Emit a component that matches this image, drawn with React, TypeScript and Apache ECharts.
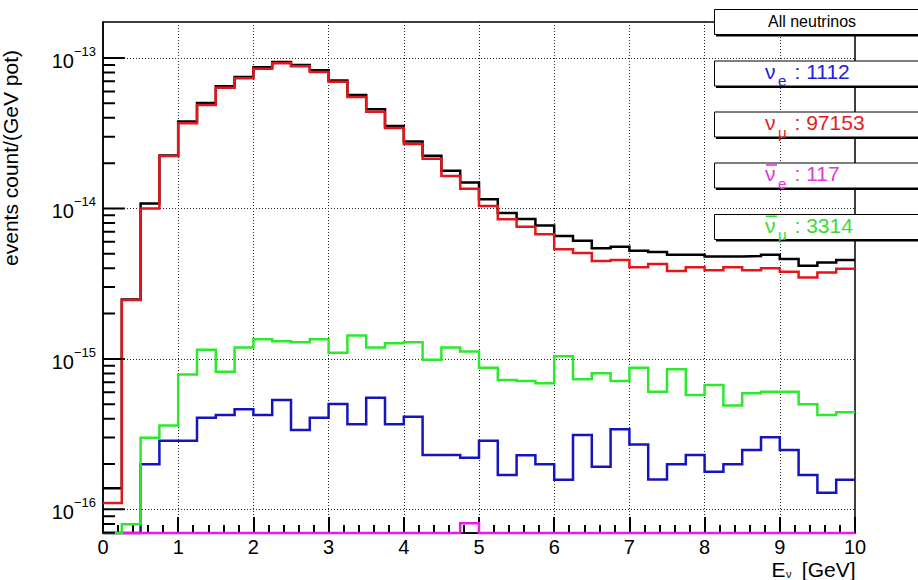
import React, { useEffect, useRef } from "react";
import * as echarts from "echarts";

// Energy binning of the histograms (GeV)
const binWidth = 0.25;
const energyMin = 0;
const energyMax = 10;

// Flux per 0.25 GeV bin, events count / (GeV pot)
const allNeutrinos = [
  1.38e-16, 2.48e-15, 1.08e-14, 2.25e-14, 3.79e-14, 5.02e-14, 6.5e-14, 7.47e-14,
  8.67e-14, 9.4e-14, 9.0e-14, 8.28e-14, 7.1e-14, 5.68e-14, 4.56e-14, 3.53e-14,
  2.79e-14, 2.24e-14, 1.78e-14, 1.49e-14, 1.15e-14, 9.32e-15, 8.5e-15, 7.7e-15,
  6.57e-15, 6.1e-15, 5.43e-15, 5.57e-15, 5.24e-15, 5.13e-15, 4.92e-15, 4.92e-15,
  4.8e-15, 4.8e-15, 4.82e-15, 4.92e-15, 4.61e-15, 4.16e-15, 4.38e-15, 4.54e-15,
];
const numu = [
  1.1e-16, 2.46e-15, 1.0e-14, 2.23e-14, 3.68e-14, 4.87e-14, 6.35e-14, 7.33e-14,
  8.49e-14, 9.22e-14, 8.8e-14, 8.07e-14, 6.95e-14, 5.51e-14, 4.4e-14, 3.43e-14,
  2.68e-14, 2.14e-14, 1.64e-14, 1.35e-14, 1.04e-14, 8.47e-15, 7.57e-15, 6.73e-15,
  5.35e-15, 5.05e-15, 4.48e-15, 4.54e-15, 4.06e-15, 4.28e-15, 3.84e-15, 4.06e-15,
  3.88e-15, 4.07e-15, 3.88e-15, 4.0e-15, 3.79e-15, 3.47e-15, 3.75e-15, 3.98e-15,
];
const numubar = [
  0, 7.97e-17, 2.99e-16, 3.61e-16, 7.88e-16, 1.15e-15, 8.22e-16, 1.19e-15,
  1.35e-15, 1.31e-15, 1.29e-15, 1.35e-15, 1.1e-15, 1.43e-15, 1.19e-15, 1.27e-15,
  1.29e-15, 9.87e-16, 1.19e-15, 1.12e-15, 8.73e-16, 7.23e-16, 7.12e-16, 6.88e-16,
  1.04e-15, 7.31e-16, 8.02e-16, 7.12e-16, 8.73e-16, 6.05e-16, 8.53e-16, 5.75e-16,
  6.7e-16, 4.89e-16, 5.9e-16, 6.05e-16, 6.05e-16, 4.99e-16, 4.24e-16, 4.41e-16,
];
const nue = [
  0, 0, 1.99e-16, 2.86e-16, 2.86e-16, 4.06e-16, 4.24e-16, 4.62e-16,
  4.24e-16, 5.33e-16, 3.37e-16, 4.06e-16, 5.01e-16, 3.67e-16, 5.52e-16, 3.67e-16,
  4.13e-16, 2.3e-16, 2.3e-16, 2.2e-16, 2.86e-16, 1.69e-16, 2.29e-16, 1.99e-16,
  1.57e-16, 3.12e-16, 1.92e-16, 3.41e-16, 2.7e-16, 1.58e-16, 1.99e-16, 2.3e-16,
  1.78e-16, 1.99e-16, 2.48e-16, 3.01e-16, 2.48e-16, 1.69e-16, 1.29e-16, 1.57e-16,
];
const nuebar = [
  0, 0, 0, 0, 0, 0, 0, 0, 0, 0, 0, 0, 0, 0, 0, 0, 0, 0, 0, 8.07e-17,
  0, 0, 0, 0, 0, 0, 0, 0, 0, 0, 0, 0, 0, 0, 0, 0, 0, 0, 0, 0,
];

// Event counts shown in the boxes
const legendCounts = { nue: "1112", numu: "97153", nuebar: "117", numubar: "3314" };

// Axis ranges and decade labels
const yMin = 6.96e-17;
const yMax = 1.735e-13;
const yDecadeExponents = [-16, -15, -14, -13];
const xTickLabels = ["0", "1", "2", "3", "4", "5", "6", "7", "8", "9", "10"];

const FONT = "'Liberation Sans', Arial, Helvetica, sans-serif";

const COLORS = {
  all: "#000000",
  numu: "#e5161b",
  numubar: "#2de82d",
  nue: "#1414c0",
  nuebar: "#ec18ec",
};

const AXIS_COLOR = "#000";
const TICK_WIDTH = 2;
// Inward y tick lengths, in GeV along the x axis (about 22 px and 12 px)
const majorTickLen = 0.29;
const minorTickLen = 0.16;

// Histogram outline: each bin becomes a flat segment across its width.
// Empty bins sit on the frame bottom, as a log-scale histogram does.
function stepPoints(values: number[]): [number, number][] {
  const pts: [number, number][] = [];
  values.forEach((v, i) => {
    const y = v > yMin ? v : yMin;
    const x0 = energyMin + i * binWidth;
    pts.push([x0, y], [x0 + binWidth, y]);
  });
  return pts;
}

// Minor tick values (2..9 x 10^n) inside the y range
function minorLogTicks(): number[] {
  const lo = Math.log10(yMin);
  const hi = Math.log10(yMax);
  const out: number[] = [];
  for (let n = Math.floor(lo); n <= Math.ceil(hi); n++) {
    for (let k = 2; k <= 9; k++) {
      const p = n + Math.log10(k);
      if (p >= lo && p <= hi) out.push(k * Math.pow(10, n));
    }
  }
  return out;
}

// Tick segments along the left frame, separated by gaps
function yTickSegments(): any[] {
  const pts: any[] = [];
  yDecadeExponents.forEach((e) => {
    const v = Math.pow(10, e);
    pts.push([energyMin, v], [energyMin + majorTickLen, v], [energyMin, "-"]);
  });
  minorLogTicks().forEach((v) => {
    pts.push([energyMin, v], [energyMin + minorTickLen, v], [energyMin, "-"]);
  });
  return pts;
}

function buildGraphics(): any[] {
  // Legend-like boxes on the right
  const boxLeft = 714.5;
  const boxW = 240;
  const boxH = 25;
  const boxTops = [9.5, 61, 112, 163, 214.5];
  const graphics: any[] = [];
  boxTops.forEach((top) => {
    graphics.push({
      type: "rect",
      z: 100,
      shape: { x: boxLeft + 1.5, y: top + boxH - 0.5, width: boxW, height: 2.5 },
      style: { fill: "#000" },
    });
    graphics.push({
      type: "rect",
      z: 101,
      shape: { x: boxLeft, y: top, width: boxW, height: boxH },
      style: { fill: "#fff", stroke: "#000", lineWidth: 1 },
    });
  });

  graphics.push({
    type: "text",
    z: 102,
    x: 812,
    y: 21.5,
    style: {
      text: "All neutrinos",
      fontSize: 16,
      fontFamily: FONT,
      fill: "#000",
      align: "center",
      verticalAlign: "middle",
    },
  });

  const entries = [
    { sub: "e", count: legendCounts.nue, color: "#2020d8", base: 78.3, bar: false },
    { sub: "\u03bc", count: legendCounts.numu, color: "#e42020", base: 130, bar: false },
    { sub: "e", count: legendCounts.nuebar, color: "#e236e2", base: 181, bar: true },
    { sub: "\u03bc", count: legendCounts.numubar, color: "#36dc36", base: 232.3, bar: true },
  ];
  entries.forEach((e) => {
    const mid = e.base - 0.3465 * 21;
    graphics.push({
      type: "text",
      z: 102,
      x: 765,
      y: mid,
      style: { text: "\u03bd", fontSize: 21, fontFamily: FONT, fill: e.color, align: "left", verticalAlign: "middle" },
    });
    graphics.push({
      type: "text",
      z: 102,
      x: 778,
      y: e.base + 7.7 - 0.3465 * 15,
      style: { text: e.sub, fontSize: 15, fontFamily: FONT, fill: e.color, align: "left", verticalAlign: "middle" },
    });
    graphics.push({
      type: "text",
      z: 102,
      x: 794.5,
      y: mid,
      style: { text: ": " + e.count, fontSize: 21, fontFamily: FONT, fill: e.color, align: "left", verticalAlign: "middle" },
    });
    if (e.bar) {
      graphics.push({
        type: "line",
        z: 102,
        shape: { x1: 766, y1: e.base - 16, x2: 777, y2: e.base - 16 },
        style: { stroke: e.color, lineWidth: 1.6 },
      });
    }
  });

  // Axis titles
  graphics.push({
    type: "text",
    z: 102,
    x: 10.5,
    y: 158,
    rotation: Math.PI / 2,
    style: {
      text: "events count/(GeV pot)",
      fontSize: 21,
      fontFamily: FONT,
      fill: "#000",
      align: "center",
      verticalAlign: "middle",
    },
  });
  graphics.push({
    type: "text",
    z: 102,
    x: 771.5,
    y: 576.7 - 0.3465 * 21,
    style: { text: "E", fontSize: 21, fontFamily: FONT, fill: "#000", align: "left", verticalAlign: "middle" },
  });
  graphics.push({
    type: "text",
    z: 102,
    x: 786,
    y: 573.5,
    style: { text: "\u03bd", fontSize: 11, fontFamily: FONT, fill: "#000", align: "left", verticalAlign: "middle" },
  });
  graphics.push({
    type: "text",
    z: 102,
    x: 855.5,
    y: 576.7 - 0.3465 * 21,
    style: { text: "[GeV]", fontSize: 21, fontFamily: FONT, fill: "#000", align: "right", verticalAlign: "middle" },
  });
  return graphics;
}

function buildOption(): echarts.EChartsOption {
  const dotted = { type: [1, 2] as number[], color: "#222", width: 1 };
  const tickLine = { color: AXIS_COLOR, width: TICK_WIDTH };

  const hists = [
    { name: "All neutrinos", values: allNeutrinos, color: COLORS.all },
    { name: "numu", values: numu, color: COLORS.numu },
    { name: "nue", values: nue, color: COLORS.nue },
    { name: "nuebar", values: nuebar, color: COLORS.nuebar },
    { name: "numubar", values: numubar, color: COLORS.numubar },
  ];

  const series: any[] = hists.map((h, i) => ({
    type: "line" as const,
    name: h.name,
    data: stepPoints(h.values),
    showSymbol: false,
    symbol: "none",
    clip: false,
    silent: true,
    z: 3 + i,
    lineStyle: { color: h.color, width: 2.5, cap: "butt" as const, join: "miter" as const },
  }));

  // Inward ticks on the log y axis (decades and 2..9 x 10^n)
  series.push({
    type: "line",
    name: "y ticks",
    data: yTickSegments(),
    showSymbol: false,
    symbol: "none",
    connectNulls: false,
    clip: false,
    silent: true,
    z: 9,
    lineStyle: { color: AXIS_COLOR, width: TICK_WIDTH, cap: "butt" },
  });

  return {
    animation: false,
    grid: {
      left: 103,
      top: 22,
      width: 752,
      height: 511,
      show: true,
      borderColor: AXIS_COLOR,
      borderWidth: 1.5,
    },
    xAxis: {
      type: "value",
      min: energyMin,
      max: energyMax,
      interval: 1,
      axisLine: { show: true, onZero: false, lineStyle: { color: AXIS_COLOR, width: 1.5 } },
      axisTick: { show: true, inside: true, length: 16, lineStyle: tickLine },
      minorTick: { show: true, splitNumber: 5, length: 8, lineStyle: tickLine },
      axisLabel: {
        margin: 4,
        fontSize: 20,
        fontFamily: FONT,
        color: "#000",
        formatter: (v: number) => xTickLabels[Math.round(v)] ?? "",
      },
      splitLine: { show: true, showMinLine: false, showMaxLine: false, lineStyle: dotted },
    },
    yAxis: {
      type: "log",
      min: yMin,
      max: yMax,
      axisLine: { show: true, onZero: false, lineStyle: { color: AXIS_COLOR, width: 1.5 } },
      axisTick: { show: false },
      axisLabel: {
        show: true,
        margin: 7,
        formatter: (v: number) => {
          const e = Math.log10(v);
          const r = Math.round(e);
          if (Math.abs(e - r) > 1e-6 || yDecadeExponents.indexOf(r) < 0) return "";
          return `{b|10}{e|${r < 0 ? "\u2212" : ""}${Math.abs(r)}}`;
        },
        rich: {
          b: { fontSize: 20, fontFamily: FONT, color: "#000", lineHeight: 26, verticalAlign: "bottom" },
          e: { fontSize: 13, fontFamily: FONT, color: "#000", lineHeight: 13, verticalAlign: "top" },
        },
      },
      splitLine: { show: true, showMinLine: false, showMaxLine: false, lineStyle: dotted },
    },
    series,
    graphic: { elements: buildGraphics() },
  } as echarts.EChartsOption;
}

export default function App() {
  const ref = useRef<HTMLDivElement>(null);

  useEffect(() => {
    if (!ref.current) return;
    const chart = echarts.init(ref.current, undefined, { renderer: "svg" });
    chart.setOption(buildOption());
    return () => {
      chart.dispose();
    };
  }, []);

  return (
    <div
      ref={ref}
      style={{
        position: "fixed",
        left: 0,
        top: 0,
        width: 918,
        height: 580,
        background: "#ffffff",
      }}
    />
  );
}
